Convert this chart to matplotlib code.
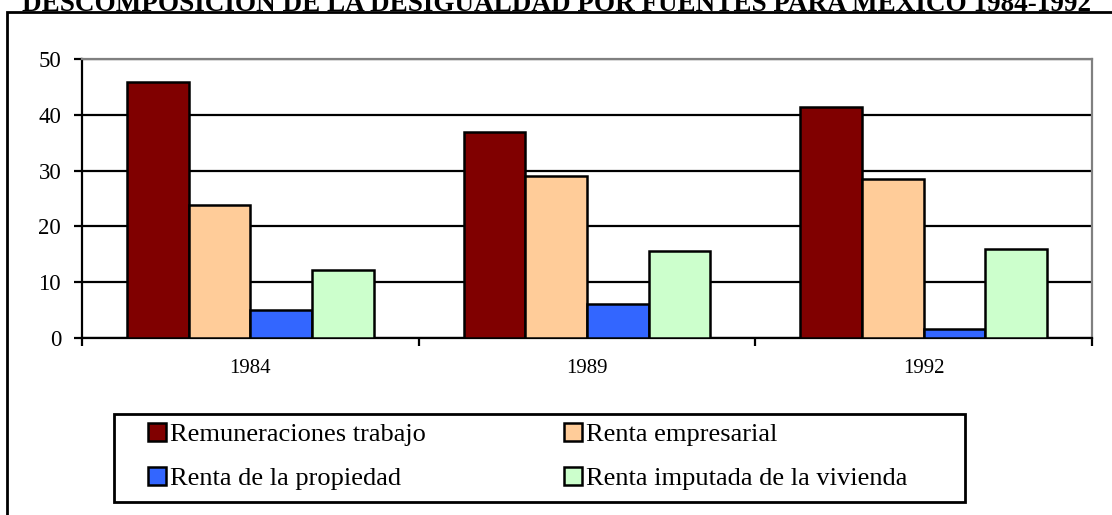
import matplotlib.pyplot as plt
import matplotlib.patches as mpatches
import numpy as np

plt.rcParams['font.family'] = ['Liberation Serif', 'DejaVu Serif']

years = ['1984', '1989', '1992']
series = ['Remuneraciones trabajo', 'Renta empresarial',
          'Renta de la propiedad', 'Renta imputada de la vivienda']
remuneraciones = [45.9, 36.9, 41.4]
empresarial = [23.8, 29.0, 28.5]
propiedad = [5.1, 6.1, 1.6]
vivienda = [12.2, 15.6, 15.9]
colors = ['#800000', '#FFCC99', '#3366FF', '#CCFFCC']

W, H = 1112, 515
fig = plt.figure(figsize=(W / 100, H / 100), dpi=100)

# outer chart frame (cut off at right/bottom)
fig.patches.append(mpatches.Rectangle((7 / W, -0.1), 1.2, 1.1 - 12 / H,
                                      transform=fig.transFigure, fill=False,
                                      edgecolor='black', linewidth=2.0, clip_on=False))

fig.text(0.5, 1 - 11 / H, 'DESCOMPOSICIÓN DE LA DESIGUALDAD POR FUENTES PARA MÉXICO 1984-1992',
         ha='center', va='baseline', fontsize=19.5, fontweight='bold')

ax = fig.add_axes([82 / W, 1 - 338 / H, (1092 - 82) / W, (338 - 59) / H])

x = np.arange(len(years))
bw = 0.183
data = [remuneraciones, empresarial, propiedad, vivienda]
bars = []
for i, (vals, name, c) in enumerate(zip(data, series, colors)):
    b = ax.bar(x + (i - 1.5) * bw, vals, bw, color=c, edgecolor='black',
               linewidth=1.8, label=name, zorder=3)
    bars.append(b)

ax.set_xlim(-0.5, 2.5)
ax.set_ylim(0, 50)
ax.set_yticks([0, 10, 20, 30, 40, 50])
ax.yaxis.grid(True, color='black', linewidth=1.6)
ax.set_axisbelow(True)

ax.set_xticks(x)
ax.set_xticklabels(years)
ax.set_xticks([-0.5, 0.5, 1.5, 2.5], minor=True)
ax.tick_params(axis='x', which='major', length=0, pad=15, labelsize=15)
ax.tick_params(axis='x', which='minor', length=6, width=1.6, direction='out')
ax.tick_params(axis='y', length=6, width=1.6, direction='out', labelsize=16.5, pad=9)

for s in ['left', 'bottom']:
    ax.spines[s].set_color('black')
    ax.spines[s].set_linewidth(1.6)
for s in ['top', 'right']:
    ax.spines[s].set_color('#808080')
    ax.spines[s].set_linewidth(1.6)

# legend frame drawn separately
fig.patches.append(mpatches.Rectangle((114 / W, 1 - 502 / H), (965 - 114) / W, 88 / H,
                                      transform=fig.transFigure, fill=False,
                                      edgecolor='black', linewidth=2.0))

# row-wise order: matplotlib fills columns first
order = [0, 2, 1, 3]
leg = ax.legend([bars[i] for i in order], [series[i] for i in order],
                loc='upper left', ncol=2, bbox_to_anchor=(148 / W, 1 - 423 / H),
                bbox_transform=fig.transFigure, frameon=False,
                fontsize=19, handlelength=0.68, handleheight=0.68,
                handletextpad=0.15, borderpad=0, labelspacing=0.78,
                borderaxespad=0, columnspacing=5.23)
for h in leg.legend_handles:
    h.set_linewidth(1.8)

fig.savefig('out.png', dpi=100)
